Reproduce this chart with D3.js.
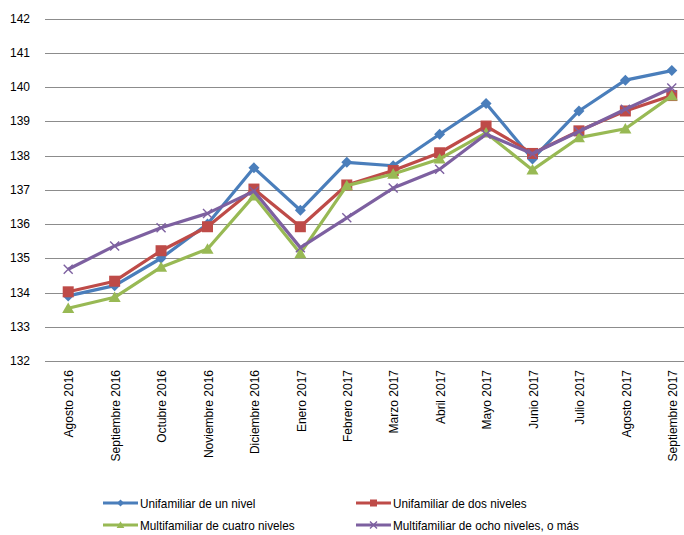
<!DOCTYPE html>
<html lang="es">
<head>
    <meta charset="UTF-8">
    <title>indices vivienda</title>
    <script src="https://d3js.org/d3.v7.min.js"></script>
    <style>
        body {
            margin: 0;
            background: white;
        }
        svg {
            display: block;
        }
        .grid line {
            stroke: #8c8c8c;
            stroke-width: 1.2;
        }
        .tick-label {
            font-family: "Liberation Sans", Arial, sans-serif;
            font-size: 12px;
            fill: #000;
        }
        .legend text {
            font-family: "Liberation Sans", Arial, sans-serif;
            font-size: 13.5px;
            fill: #000;
        }
        .serie {
            fill: none;
            stroke-width: 3.2;
            stroke-linejoin: round;
        }
    </style>
</head>
<body>
    <div id="chart"></div>
    <script>
        // data

        const meses = ['Agosto 2016', 'Septiembre 2016', 'Octubre 2016', 'Noviembre 2016', 'Diciembre 2016',
            'Enero 2017', 'Febrero 2017', 'Marzo 2017', 'Abril 2017', 'Mayo 2017', 'Junio 2017',
            'Julio 2017', 'Agosto 2017', 'Septiembre 2017']

        const unNivel = [133.9, 134.2, 135.0, 136.0, 137.64, 136.4, 137.8, 137.7, 138.62, 139.52, 137.9, 139.3, 140.2, 140.48]
        const dosNiveles = [134.02, 134.33, 135.22, 135.92, 137.02, 135.92, 137.14, 137.56, 138.08, 138.86, 138.06, 138.72, 139.3, 139.75]
        const cuatroNiveles = [133.54, 133.86, 134.74, 135.27, 136.82, 135.14, 137.12, 137.46, 137.9, 138.66, 137.58, 138.52, 138.78, 139.74]
        const ochoNiveles = [134.68, 135.36, 135.89, 136.31, 136.96, 135.31, 136.18, 137.05, 137.6, 138.62, 138.05, 138.7, 139.35, 139.97]

        const yTicks = [132, 133, 134, 135, 136, 137, 138, 139, 140, 141, 142]

        const series = [
            { name: 'Unifamiliar de un nivel', values: unNivel, color: '#4a7ebb', marker: 'diamond' },
            { name: 'Unifamiliar de dos niveles', values: dosNiveles, color: '#be4b48', marker: 'square' },
            { name: 'Multifamiliar de cuatro niveles', values: cuatroNiveles, color: '#98b954', marker: 'triangle' },
            { name: 'Multifamiliar de ocho niveles, o más', values: ochoNiveles, color: '#7d60a0', marker: 'cross' }
        ]

        // viz

        const WIDTH = 684
        const HEIGHT = 535

        const svg = d3.select('#chart')
            .append('svg')
            .attr('width', WIDTH)
            .attr('height', HEIGHT)

        const x = d3.scalePoint()
            .domain(meses)
            .range([45, 695])
            .padding(0.5)

        const y = d3.scaleLinear()
            .domain([132, 142])
            .range([361, 18.5])

        // gridlines
        svg.append('g').attr('class', 'grid')
            .selectAll('line')
            .data(yTicks).enter()
            .append('line')
            .attr('x1', 45).attr('x2', 695)
            .attr('y1', d => Math.round(y(d)) + 0.5)
            .attr('y2', d => Math.round(y(d)) + 0.5)

        // y tick labels
        svg.append('g')
            .selectAll('text')
            .data(yTicks).enter()
            .append('text').attr('class', 'tick-label')
            .attr('x', 30)
            .attr('y', d => y(d))
            .attr('dy', '0.35em')
            .attr('text-anchor', 'end')
            .text(d => d)

        // x labels, rotated
        svg.append('g')
            .selectAll('text')
            .data(meses).enter()
            .append('text').attr('class', 'tick-label')
            .attr('transform', d => `translate(${x(d) + 1},370) rotate(-90)`)
            .attr('dy', '0.35em')
            .attr('text-anchor', 'end')
            .text(d => d)

        // marker shapes
        const drawMarker = (g, type, color, size) => {
            if (type === 'diamond') {
                g.append('path')
                    .attr('d', `M0,${-size}L${size},0L0,${size}L${-size},0Z`)
                    .attr('fill', color)
            }
            if (type === 'square') {
                g.append('rect')
                    .attr('x', -size).attr('y', -size)
                    .attr('width', 2 * size).attr('height', 2 * size)
                    .attr('fill', color)
            }
            if (type === 'triangle') {
                g.append('path')
                    .attr('d', `M0,${-size * 1.05}L${size * 1.1},${size * 0.85}L${-size * 1.1},${size * 0.85}Z`)
                    .attr('fill', color)
            }
            if (type === 'cross') {
                g.append('path')
                    .attr('d', `M${-size},${-size}L${size},${size}M${-size},${size}L${size},${-size}`)
                    .attr('stroke', color)
                    .attr('stroke-width', 1.4)
                    .attr('fill', 'none')
            }
        }

        const line = d3.line()
            .x((d, i) => x(meses[i]))
            .y(d => y(d))

        series.forEach(s => {
            const g = svg.append('g')
            g.append('path')
                .attr('class', 'serie')
                .attr('stroke', s.color)
                .attr('d', line(s.values))
            s.values.forEach((v, i) => {
                const m = g.append('g').attr('transform', `translate(${x(meses[i])},${y(v)})`)
                drawMarker(m, s.marker, s.color, s.marker === 'cross' ? 4.5 : 5.5)
            })
        })

        // legend
        const legendPos = [[103, 503], [356, 503], [103, 525], [356, 525]]
        const legend = svg.append('g').attr('class', 'legend')
        series.forEach((s, i) => {
            const [lx, ly] = legendPos[i]
            const g = legend.append('g').attr('transform', `translate(${lx},${ly})`)
            g.append('line')
                .attr('x1', 0).attr('x2', 35)
                .attr('stroke', s.color).attr('stroke-width', 3)
            const m = g.append('g').attr('transform', 'translate(17.5,0)')
            drawMarker(m, s.marker, s.color, 3.5)
            // condensed look of the original legend font
            g.append('text')
                .attr('transform', 'translate(37,0) scale(0.87,1)')
                .attr('dy', '0.35em')
                .text(s.name)
        })
    </script>
</body>
</html>
